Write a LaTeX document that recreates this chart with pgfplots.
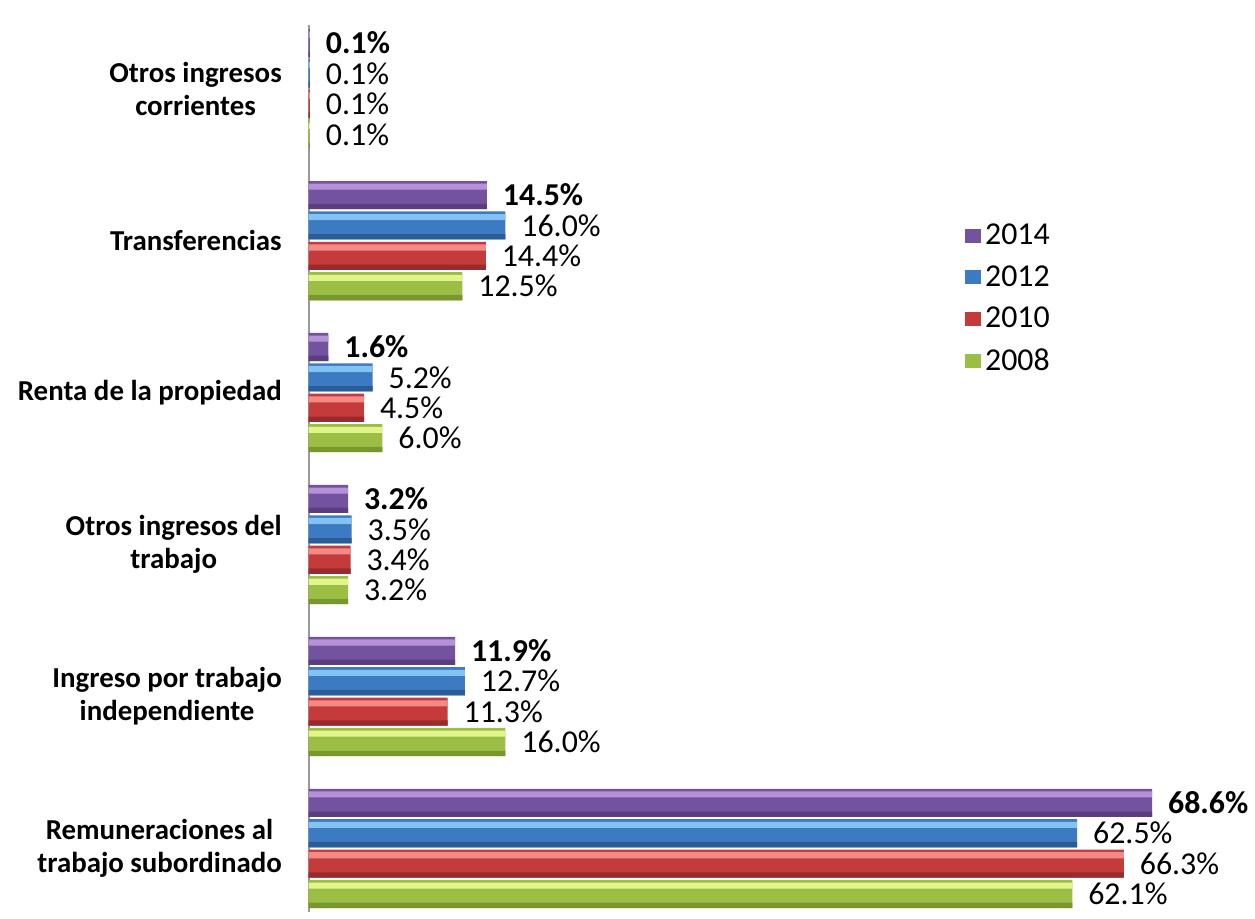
\documentclass[border=0pt]{standalone}
\usepackage{pgfplots}
\pgfplotsset{compat=1.18}
\usepackage{fontspec}
\setmainfont{Carlito}

\definecolor{p14}{HTML}{7353A0}
\definecolor{p14l}{HTML}{B592D8}
\definecolor{p14d}{HTML}{5A3E7E}
\definecolor{b12}{HTML}{3C7BC2}
\definecolor{b12l}{HTML}{82C2F4}
\definecolor{b12d}{HTML}{2B5C96}
\definecolor{r10}{HTML}{C43B3C}
\definecolor{r10l}{HTML}{F48A88}
\definecolor{r10d}{HTML}{982B2B}
\definecolor{g08}{HTML}{9DBE45}
\definecolor{g08l}{HTML}{E2F48C}
\definecolor{g08d}{HTML}{78982F}

\pgfplotsset{
 hl/.style={draw=none, fill=#1, bar width=0.04, nodes near coords={}, forget plot},
 dk/.style={draw=none, fill=#1, bar width=0.035, nodes near coords={}, forget plot},
}

\begin{document}
\begin{tikzpicture}
\begin{axis}[
 name=ax,
 scale only axis,
 width=463pt, height=445.5pt,
 xmin=0, xmax=75,
 ymin=-0.42, ymax=5.42,
 axis x line=none,
 axis y line*=left,
 y axis line style={draw=gray!80, line width=0.8pt},
 ytick={0,1,2,3,4,5},
 yticklabels={{Remuneraciones al\\trabajo subordinado},{Ingreso por trabajo\\independiente},{Otros ingresos del\\trabajo},{Renta de la propiedad},{Transferencias},{Otros ingresos\\corrientes}},
 major tick length=0pt,
 yticklabel style={align=center, font=\fontsize{14.5}{16.5}\selectfont\bfseries, xshift=-10pt},
 xbar, bar width=0.185,
 clip=false,
 /pgf/number format/assume math mode=true,
 nodes near coords={\pgfmathprintnumber[fixed,fixed zerofill,precision=1]{\pgfplotspointmeta}\%},
 every node near coord/.append style={font=\fontsize{16}{17}\selectfont, text=black, xshift=4.5pt},
 legend style={at={(0.705,0.785)}, anchor=north west, draw=none, fill=none,
   font=\fontsize{16}{18}\selectfont, row sep=5pt},
 legend cell align=left,
 reverse legend,
 legend image code/.code={\fill[#1] (0pt,-3.5pt) rectangle (8pt,3.5pt);},
]
% 2008
\addplot[draw=none, fill=g08, bar shift=-0.3]
 coordinates {(62.1,0) (16.0,1) (3.2,2) (6.0,3) (12.5,4) (0.1,5)};
\addlegendentry{2008}
\addplot[hl=g08l, bar shift=-0.245]
 coordinates {(62.1,0) (16.0,1) (3.2,2) (6.0,3) (12.5,4) (0.1,5)};
\addplot[dk=g08d, bar shift=-0.375]
 coordinates {(62.1,0) (16.0,1) (3.2,2) (6.0,3) (12.5,4) (0.1,5)};
% 2010
\addplot[draw=none, fill=r10, bar shift=-0.1]
 coordinates {(66.3,0) (11.3,1) (3.4,2) (4.5,3) (14.4,4) (0.1,5)};
\addlegendentry{2010}
\addplot[hl=r10l, bar shift=-0.045]
 coordinates {(66.3,0) (11.3,1) (3.4,2) (4.5,3) (14.4,4) (0.1,5)};
\addplot[dk=r10d, bar shift=-0.175]
 coordinates {(66.3,0) (11.3,1) (3.4,2) (4.5,3) (14.4,4) (0.1,5)};
% 2012
\addplot[draw=none, fill=b12, bar shift=0.1]
 coordinates {(62.5,0) (12.7,1) (3.5,2) (5.2,3) (16.0,4) (0.1,5)};
\addlegendentry{2012}
\addplot[hl=b12l, bar shift=0.155]
 coordinates {(62.5,0) (12.7,1) (3.5,2) (5.2,3) (16.0,4) (0.1,5)};
\addplot[dk=b12d, bar shift=0.025]
 coordinates {(62.5,0) (12.7,1) (3.5,2) (5.2,3) (16.0,4) (0.1,5)};
% 2014
\addplot[draw=none, fill=p14, bar shift=0.3,
 every node near coord/.append style={font=\fontsize{16}{17}\selectfont\bfseries}]
 coordinates {(68.6,0) (11.9,1) (3.2,2) (1.6,3) (14.5,4) (0.1,5)};
\addlegendentry{2014}
\addplot[hl=p14l, bar shift=0.355]
 coordinates {(68.6,0) (11.9,1) (3.2,2) (1.6,3) (14.5,4) (0.1,5)};
\addplot[dk=p14d, bar shift=0.225]
 coordinates {(68.6,0) (11.9,1) (3.2,2) (1.6,3) (14.5,4) (0.1,5)};
\end{axis}
\path ([xshift=-155pt,yshift=-3pt]ax.south west) rectangle ([xshift=9.5pt,yshift=12.5pt]ax.north east);
\end{tikzpicture}
\end{document}
